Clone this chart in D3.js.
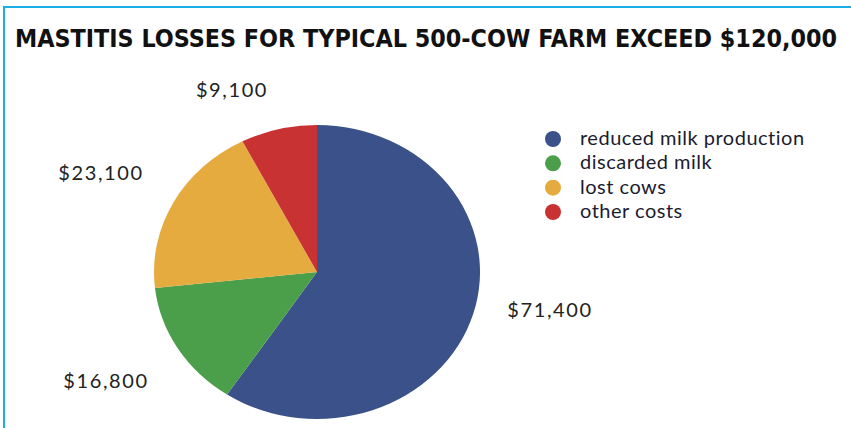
<!DOCTYPE html>
<html><head><meta charset="utf-8">
<script src="https://cdn.jsdelivr.net/npm/d3@7"></script>
<style>body{margin:0;background:#fff}svg{display:block}</style>
</head><body>
<svg id="c" width="851" height="428"></svg>
<script>
const categories = ["reduced milk production", "discarded milk", "lost cows", "other costs"];
const values = [71400, 16800, 23100, 9100];
const valueLabels = ["$71,400", "$16,800", "$23,100", "$9,100"];
const colors = ["#3a5189", "#4b9e4a", "#e5ab3e", "#c83232"];
const titleText = "MASTITIS LOSSES FOR TYPICAL 500-COW FARM EXCEED $120,000";

const svg = d3.select("#c");
// frame lines
svg.append("line").attr("x1",4).attr("x2",851).attr("y1",7).attr("y2",7).attr("stroke","#19aee6").attr("stroke-width",2);
svg.append("line").attr("x1",4).attr("x2",4).attr("y1",6).attr("y2",428).attr("stroke","#19aee6").attr("stroke-width",2);

svg.append("text").attr("x",15).attr("y",47).text(titleText)
  .attr("font-family","'DejaVu Sans Condensed','DejaVu Sans',sans-serif").attr("font-weight","bold")
  .attr("font-size",25).attr("fill","#111")
  .attr("textLength",822).attr("lengthAdjust","spacingAndGlyphs");

const cx = 317, cy = 272, rx = 163, ry = 147;
const pie = d3.pie().sort(null).value(d => d);
const arcs = pie(values);
const arc = d3.arc().innerRadius(0).outerRadius(rx);
const g = svg.append("g").attr("transform", `translate(${cx},${cy}) scale(1,${ry/rx})`);
g.selectAll("path").data(arcs).join("path")
  .attr("d", arc).attr("fill", (d,i) => colors[i]);

// value labels
const labelPos = [[550,317],[106,388],[101,180],[232,97]];
svg.selectAll("text.val").data(valueLabels).join("text").attr("class","val")
  .attr("x",(d,i)=>labelPos[i][0]).attr("y",(d,i)=>labelPos[i][1])
  .attr("text-anchor","middle")
  .attr("font-family","'Lato','DejaVu Sans',sans-serif").attr("font-size",20)
  .attr("letter-spacing",1.6)
  .attr("fill","#222").text(d=>d);

// legend
const ly = d3.scalePoint().domain(categories).range([139, 212]);
const leg = svg.append("g");
leg.selectAll("circle").data(categories).join("circle")
  .attr("cx",553).attr("cy",d=>ly(d)).attr("r",8).attr("fill",(d,i)=>colors[i]);
leg.selectAll("text").data(categories).join("text")
  .attr("x",580).attr("y",d=>ly(d)+6)
  .attr("font-family","'Lato','DejaVu Sans',sans-serif").attr("font-size",20)
  .attr("letter-spacing",0.5)
  .attr("fill","#1c1c30").text(d=>d);
</script>
</body></html>
